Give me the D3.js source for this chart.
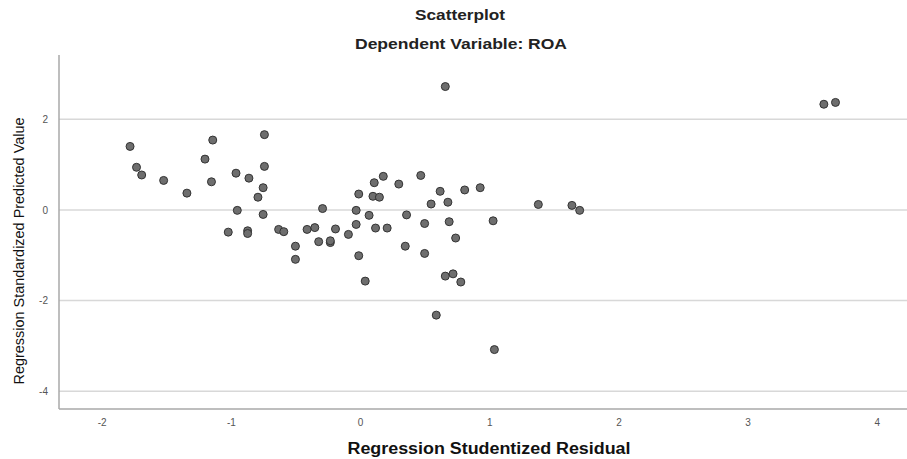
<!DOCTYPE html>
<html>
<head>
<meta charset="utf-8">
<script src="https://cdn.jsdelivr.net/npm/d3@7"></script>
<style>
  body { margin: 0; background: #fff; }
  svg { display: block; font-family: "Liberation Sans", Arial, sans-serif; }
</style>
</head>
<body>
<div id="chart"></div>
<script>
// Regression Studentized Residual (x) vs Regression Standardized Predicted Value (y)
const residuals = [
  -1.78, -1.73, -1.69, -1.52, -1.34, -1.20, -1.14, -1.15, -0.96, -0.86,
  -0.74, -0.74, -0.75, -0.79, -0.95, -0.75, -1.02, -0.87, -0.87, -0.63,
  -0.59, -0.50, -0.50, 0.66, -0.29, -0.41, -0.35, -0.19, -0.32, -0.23,
  -0.23, -0.09, -0.03, -0.03, -0.01, -0.01, 0.07, 0.11, 0.10, 0.15,
  0.18, 0.12, 0.21, 0.30, 0.36, 0.35, 0.47, 0.50, 0.50, 0.55,
  0.62, 0.68, 0.69, 0.74, 0.81, 0.93, 1.03, 1.38, 0.04, 0.66,
  0.72, 0.78, 0.59, 1.04, 1.64, 1.70, 3.59, 3.68
];
const predicted = [
  1.40, 0.94, 0.77, 0.65, 0.37, 1.12, 1.54, 0.62, 0.81, 0.70,
  1.66, 0.96, 0.49, 0.28, -0.01, -0.10, -0.49, -0.46, -0.52, -0.43,
  -0.48, -0.80, -1.09, 2.72, 0.03, -0.43, -0.39, -0.42, -0.70, -0.72,
  -0.68, -0.54, -0.01, -0.32, 0.35, -1.01, -0.12, 0.60, 0.30, 0.28,
  0.74, -0.40, -0.40, 0.57, -0.11, -0.80, 0.76, -0.30, -0.96, 0.13,
  0.41, 0.17, -0.26, -0.62, 0.44, 0.49, -0.24, 0.12, -1.57, -1.46,
  -1.41, -1.59, -2.32, -3.08, 0.10, -0.01, 2.33, 2.37
];
const xTicks = [-2, -1, 0, 1, 2, 3, 4];
const yTicks = [-4, -2, 0, 2];

const width = 907, height = 459;
const plot = { left: 59, right: 907, top: 55, bottom: 409 };

const svg = d3.select("#chart").append("svg")
  .attr("width", width)
  .attr("height", height);

const xScale = d3.scaleLinear().domain([-2.33, 4.23]).range([plot.left, plot.left + 6.56 * 129.2]);
const yScale = d3.scaleLinear().domain([-4.39, 3.42]).range([plot.bottom, plot.bottom - 7.81 * 45.35]);

// titles
svg.append("text")
  .attr("x", 460).attr("y", 20)
  .attr("text-anchor", "middle")
  .attr("font-size", 15).attr("font-weight", "bold").attr("fill", "#222")
  .attr("textLength", 90).attr("lengthAdjust", "spacingAndGlyphs")
  .text("Scatterplot");
svg.append("text")
  .attr("x", 461).attr("y", 49)
  .attr("text-anchor", "middle")
  .attr("font-size", 15).attr("font-weight", "bold").attr("fill", "#222")
  .attr("textLength", 212).attr("lengthAdjust", "spacingAndGlyphs")
  .text("Dependent Variable: ROA");

// gridlines
svg.append("g")
  .selectAll("line")
  .data(yTicks)
  .join("line")
  .attr("x1", plot.left).attr("x2", plot.right)
  .attr("y1", d => yScale(d)).attr("y2", d => yScale(d))
  .attr("stroke", "#d8d8d8").attr("stroke-width", 1.5);

// axes
const fmt = d => String(d);
const xAxis = svg.append("g")
  .attr("transform", `translate(0,${plot.bottom})`)
  .call(d3.axisBottom(xScale).tickValues(xTicks).tickFormat(fmt).tickSize(0).tickPadding(10));
const yAxis = svg.append("g")
  .attr("transform", `translate(${plot.left},0)`)
  .call(d3.axisLeft(yScale).tickValues(yTicks).tickFormat(fmt).tickSize(0).tickPadding(11));

[xAxis, yAxis].forEach(g => {
  g.select(".domain").remove();
  g.selectAll("text").attr("font-size", 10).attr("fill", "#555")
    .attr("font-family", "Liberation Sans, Arial, sans-serif");
});

svg.append("line")
  .attr("x1", plot.left).attr("x2", plot.right)
  .attr("y1", plot.bottom).attr("y2", plot.bottom)
  .attr("stroke", "#a8a8a8").attr("stroke-width", 1.5);
svg.append("line")
  .attr("x1", plot.left).attr("x2", plot.left)
  .attr("y1", plot.top).attr("y2", plot.bottom)
  .attr("stroke", "#a8a8a8").attr("stroke-width", 1.5);

// axis titles
svg.append("text")
  .attr("x", 489).attr("y", 454)
  .attr("text-anchor", "middle")
  .attr("font-size", 16).attr("font-weight", "bold").attr("fill", "#111")
  .attr("textLength", 283).attr("lengthAdjust", "spacingAndGlyphs")
  .text("Regression Studentized Residual");
svg.append("text")
  .attr("transform", "translate(24,251) rotate(-90)")
  .attr("text-anchor", "middle")
  .attr("font-size", 14).attr("fill", "#111")
  .attr("textLength", 267).attr("lengthAdjust", "spacingAndGlyphs")
  .text("Regression Standardized Predicted Value");

// points
svg.append("g")
  .selectAll("circle")
  .data(d3.range(residuals.length))
  .join("circle")
  .attr("cx", i => xScale(residuals[i]))
  .attr("cy", i => yScale(predicted[i]))
  .attr("r", 4)
  .attr("fill", "#6e6e6e")
  .attr("stroke", "#333")
  .attr("stroke-width", 1);
</script>
</body>
</html>
